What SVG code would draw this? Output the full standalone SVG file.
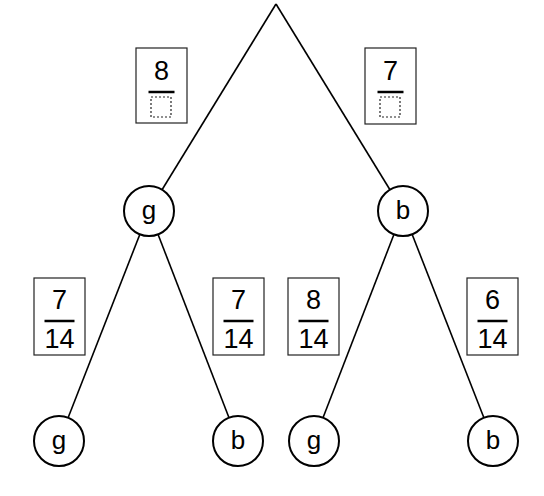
<svg xmlns="http://www.w3.org/2000/svg" width="544" height="496" viewBox="0 0 544 496">
<style>
.edge{stroke:#000;stroke-width:1.6;fill:none}
.node circle{fill:#fff;stroke:#000;stroke-width:2}
.node text{font-family:"Liberation Sans",Arial,sans-serif;font-size:26px;text-anchor:middle;fill:#000}
.box rect{fill:#fff;stroke:#222;stroke-width:1.2}
.box text{font-family:"Liberation Sans",Arial,sans-serif;font-size:27px;text-anchor:middle;fill:#000}
.bar{stroke:#000;stroke-width:2.5}
.blank{fill:none;stroke:#000;stroke-width:2;stroke-dasharray:2,2}
</style>
<rect width="544" height="496" fill="#fff"/>
<g id="connectors">
<line class="edge" x1="276" y1="4" x2="149" y2="211"/>
<line class="edge" x1="276" y1="4" x2="403" y2="211"/>
<line class="edge" x1="149" y1="211" x2="59" y2="441"/>
<line class="edge" x1="149" y1="211" x2="238" y2="441"/>
<line class="edge" x1="403" y1="211" x2="314" y2="441"/>
<line class="edge" x1="403" y1="211" x2="493" y2="441"/>
</g>
<g id="label-g1" class="box">
<rect x="136" y="48" width="51" height="75"/>
<text x="161.5" y="80">8</text>
<line class="bar" x1="148.5" y1="92" x2="174.5" y2="92"/>
<rect class="blank" x="151" y="97" width="20" height="20"/>
</g>
<g id="label-b1" class="box">
<rect x="365" y="48" width="51" height="76"/>
<text x="390.5" y="80">7</text>
<line class="bar" x1="377.5" y1="92" x2="403.5" y2="92"/>
<rect class="blank" x="380" y="97" width="20" height="20"/>
</g>
<g id="label-gg" class="box">
<rect x="34" y="278" width="51" height="77"/>
<text x="59.5" y="309">7</text>
<line class="bar" x1="44.5" y1="321" x2="74.5" y2="321"/>
<text x="59.5" y="348">14</text>
</g>
<g id="label-gb" class="box">
<rect x="213" y="278" width="51" height="77"/>
<text x="238.5" y="309">7</text>
<line class="bar" x1="223.5" y1="321" x2="253.5" y2="321"/>
<text x="238.5" y="348">14</text>
</g>
<g id="label-bg" class="box">
<rect x="288" y="278" width="51" height="77"/>
<text x="313.5" y="309">8</text>
<line class="bar" x1="298.5" y1="321" x2="328.5" y2="321"/>
<text x="313.5" y="348">14</text>
</g>
<g id="label-bb" class="box">
<rect x="467" y="278" width="51" height="77"/>
<text x="492.5" y="309">6</text>
<line class="bar" x1="477.5" y1="321" x2="507.5" y2="321"/>
<text x="492.5" y="348">14</text>
</g>
<g id="node-g1" class="node"><circle cx="149" cy="211" r="25"/><text x="149" y="219">g</text></g>
<g id="node-b1" class="node"><circle cx="403" cy="211" r="25"/><text x="403" y="219">b</text></g>
<g id="node-gg" class="node"><circle cx="59" cy="441" r="25"/><text x="59" y="449">g</text></g>
<g id="node-gb" class="node"><circle cx="238" cy="441" r="25"/><text x="238" y="449">b</text></g>
<g id="node-bg" class="node"><circle cx="314" cy="441" r="25"/><text x="314" y="449">g</text></g>
<g id="node-bb" class="node"><circle cx="493" cy="441" r="25"/><text x="493" y="449">b</text></g>
</svg>
